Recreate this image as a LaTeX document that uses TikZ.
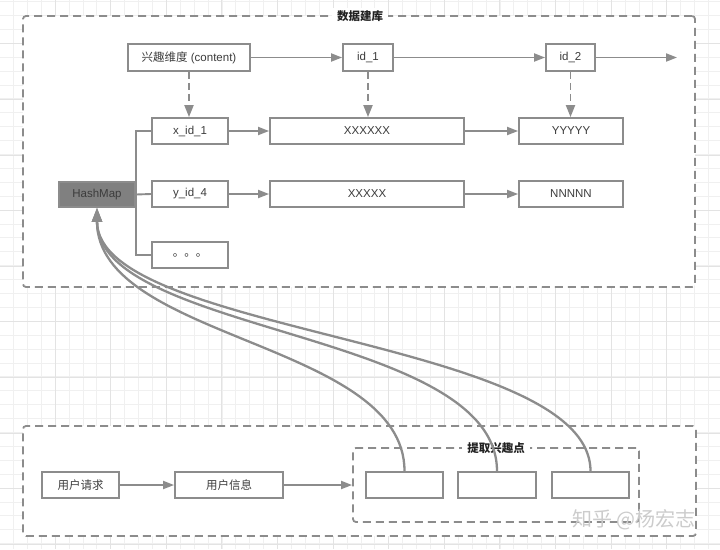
\documentclass[tikz,border=0pt]{standalone}
\usepackage{fontspec}
\setmainfont{Liberation Sans}
\newfontfamily\cjk{Noto Sans CJK SC}
\usetikzlibrary{arrows.meta}
\definecolor{ln}{HTML}{8C8C8C}
\definecolor{tx}{HTML}{3C3C3C}
\definecolor{ttl}{HTML}{222222}
\definecolor{gmin}{HTML}{F0F0F0}
\definecolor{gmaj}{HTML}{E3E3E3}
\definecolor{hmfill}{HTML}{808080}
\begin{document}
\begin{tikzpicture}[x=1pt,y=-1pt,
  box/.style={draw=ln, line width=1.8pt, fill=white, inner sep=0pt, text=tx,
    minimum height=26pt, font=\fontsize{11.5}{13}\selectfont},
  area/.style={draw=ln, line width=1.8pt, fill=white, dash pattern=on 8pt off 5pt,
    rounded corners=3pt, inner sep=0pt},
  areatitle/.style={fill=white, inner xsep=5pt, inner ysep=2pt, text=ttl,
    font=\cjk\bfseries\fontsize{11.5}{13}\selectfont},
  arr/.style={draw=ln, line width=1.9pt, -{Triangle[length=11pt,width=8pt]}},
  darr/.style={draw=ln, line width=1.9pt, dash pattern=on 7pt off 4pt,
    -{Triangle[length=12pt,width=9pt]}},
  conn/.style={draw=ln, line width=1.9pt},
  curve/.style={draw=ln, line width=2.3pt, -{Triangle[length=14pt,width=10pt]}}]
\useasboundingbox (0,0) rectangle (720,549);
\fill[white] (0,0) rectangle (720,549);
% background grid
\foreach \i in {0,...,51} \draw[gmin, line width=0.6pt] ({13.3+13.9*\i},0) -- ++(0,549);
\foreach \i in {0,...,39} \draw[gmin, line width=0.6pt] (0,{1.4+13.9*\i}) -- ++(720,0);
\foreach \i in {0,...,12} \draw[gmaj, line width=0.8pt] ({55+55.6*\i},0) -- ++(0,549);
\foreach \i in {0,...,9} \draw[gmaj, line width=0.8pt] (0,{43.7+55.6*\i}) -- ++(720,0);

% areas
\node[area, minimum width=672pt, minimum height=271pt] (db) at (359,151.5) {};
\node[areatitle] (dbt) at (360,16) {数据建库};
\node[area, minimum width=673pt, minimum height=110pt] (req) at (359.5,481) {};
\node[area, minimum width=286pt, minimum height=74pt] (ext) at (496,485) {};
\node[areatitle] (extt) at (496,448) {提取兴趣点};

% top part
\node[box, minimum width=122pt, minimum height=27pt] (int) at (189,57.5) {{\cjk 兴趣维度} (content)};
\node[box, minimum width=50pt, minimum height=27pt] (id1) at (368,57.5) {id\_1};
\node[box, minimum width=49pt, minimum height=27pt] (id2) at (570.5,57.5) {id\_2};
\coordinate (out) at (677,57.5);

\node[box, minimum width=76pt] (xid1) at (190,131) {x\_id\_1};
\node[box, minimum width=194pt] (xx1) at (367,131) {XXXXXX};
\node[box, minimum width=104pt] (yy) at (571,131) {YYYYY};
\node[box, minimum width=76pt] (yid4) at (190,194) {y\_id\_4};
\node[box, minimum width=194pt] (xx2) at (367,194) {XXXXX};
\node[box, minimum width=104pt] (nn) at (571,194) {NNNNN};
\node[box, minimum width=76pt] (dots) at (190,255) {\cjk 。。。};
\node[box, fill=hmfill, minimum width=76pt, minimum height=25pt] (hm) at (97,194.5) {HashMap};

\draw[arr] (int) -- (id1);
\draw[arr] (id1) -- (id2);
\draw[arr] (id2) -- (out);
\draw[darr] (int.south) -- (int.south |- xid1.north);
\draw[darr] (id1.south) -- (id1.south |- xx1.north);
\draw[darr] (id2.south) -- (id2.south |- yy.north);
\draw[arr] (xid1) -- (xx1);
\draw[arr] (xx1) -- (yy);
\draw[arr] (yid4) -- (xx2);
\draw[arr] (xx2) -- (nn);
\draw[conn] (hm.east) -- (yid4.west);
\draw[conn] (xid1.west) -| (hm.east) |- (dots.west);

% bottom part
\node[box, minimum width=77pt] (ureq) at (80.5,485) {\cjk 用户请求};
\node[box, minimum width=108pt] (uinfo) at (229,485) {\cjk 用户信息};
\node[box, minimum width=77pt] (b1) at (404.5,485) {};
\node[box, minimum width=78pt] (b2) at (497,485) {};
\node[box, minimum width=77pt] (b3) at (590.5,485) {};
\draw[arr] (ureq) -- (uinfo);
\draw[arr] (uinfo) -- (ext.west);

\draw[curve] (b3.north) .. controls (590.5,338) and (97,335) .. (hm.south);
\draw[curve] (b2.north) .. controls (497,330) and (97,335) .. (hm.south);
\draw[curve] (b1.north) .. controls (404.5,342) and (97,340) .. (hm.south);

% watermark
\node[text=gray!40, font=\cjk\fontsize{20}{22}\selectfont] (wm) at (634,520) {知乎 @杨宏志};
\end{tikzpicture}
\end{document}
